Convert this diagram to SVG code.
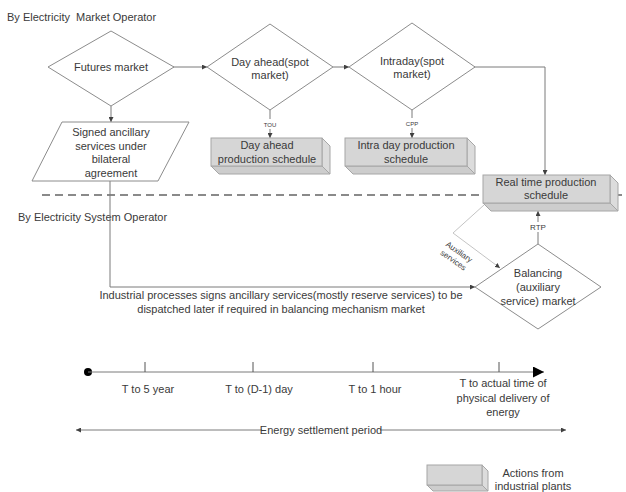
<svg xmlns="http://www.w3.org/2000/svg" width="626" height="492" viewBox="0 0 626 492">
<defs>
<marker id="ah" viewBox="0 0 6 6" refX="6" refY="3" markerWidth="5" markerHeight="5" orient="auto" markerUnits="userSpaceOnUse"><path d="M0,0 L6,3 L0,6 Z" fill="#404040"/></marker>
<marker id="big" viewBox="0 0 10 10" refX="10" refY="5" markerWidth="11" markerHeight="11" orient="auto" markerUnits="userSpaceOnUse"><path d="M0,0 L10,5 L0,10 Z" fill="#000"/></marker>
<style>
text{font-family:"Liberation Sans",Arial,sans-serif;fill:#3a3a3a;font-size:11px}
.c{text-anchor:middle}
.sh{fill:none;stroke:#8c8c8c;stroke-width:1}
.cn{fill:none;stroke:#7a7a7a;stroke-width:1}
.front{fill:#d6d6d6;stroke:#a6a6a6;stroke-width:1}
.side{fill:#dcdcdc;stroke:#a6a6a6;stroke-width:1}
.bot{fill:#cdcdcd;stroke:#a6a6a6;stroke-width:1}
.sm{font-size:6px}
</style>
</defs>
<rect width="626" height="492" fill="#fff"/>
<text x="7" y="21" xml:space="preserve">By Electricity  Market Operator</text>
<text x="18" y="221">By Electricity System Operator</text>
<line x1="42" y1="195" x2="626" y2="195" stroke="#8a8a8a" stroke-width="2" stroke-dasharray="8,5"/>
<g id="connectors">
<line class="cn" x1="173" y1="67" x2="207" y2="67" marker-end="url(#ah)"/>
<line class="cn" x1="333" y1="67" x2="349" y2="67" marker-end="url(#ah)"/>
<polyline class="cn" points="474,67 545,67 545,175" marker-end="url(#ah)"/>
<line class="cn" x1="111" y1="106" x2="111" y2="122" marker-end="url(#ah)"/>
<line class="cn" x1="270" y1="110" x2="270" y2="119"/>
<line class="cn" x1="270" y1="129" x2="270" y2="138" marker-end="url(#ah)"/>
<text class="c sm" x="270" y="127">TOU</text>
<line class="cn" x1="412" y1="110" x2="412" y2="118"/>
<line class="cn" x1="412" y1="128" x2="412" y2="138" marker-end="url(#ah)"/>
<text class="c sm" x="412" y="126">CPP</text>
<polyline class="cn" points="110,181 110,287 475,287" marker-end="url(#ah)"/>
<line class="cn" x1="538" y1="244" x2="538" y2="232"/>
<line class="cn" x1="538" y1="222" x2="538" y2="211" marker-end="url(#ah)"/>
<text class="c" x="538" y="230" style="font-size:8px">RTP</text>
<polyline points="484,205 453,233 500,268" fill="none" stroke="#c4c4c4" stroke-width="1" marker-end="url(#ah)"/>
<g transform="translate(457,255) rotate(35)"><text class="c" x="0" y="-1" style="font-size:8px">Auxiliary</text><text class="c" x="0" y="9" style="font-size:8px">services</text></g>
</g>
<g id="futures"><polygon class="sh" points="48,67 111,31 174,67 111,106"/><text class="c" x="111" y="71">Futures market</text></g>
<g id="dayahead"><polygon class="sh" points="207,67 270,24 333,67 270,110"/><text class="c" x="270" y="66">Day ahead(spot</text><text class="c" x="270" y="79">market)</text></g>
<g id="intraday"><polygon class="sh" points="349,67 412,23 475,67 412,110"/><text class="c" x="412" y="65">Intraday(spot</text><text class="c" x="412" y="78">market)</text></g>
<g id="signed"><polygon class="sh" points="62,122 189,122 158,181 32,181"/><text class="c" x="111" y="136">Signed ancillary</text><text class="c" x="111" y="150">services under</text><text class="c" x="111" y="163">bilateral</text><text class="c" x="111" y="177">agreement</text></g>
<g id="dayahead-schedule">
<polygon class="side" points="322,138 330,146 330,174 322,166"/>
<polygon class="bot" points="211,166 322,166 330,174 219,174"/>
<rect class="front" x="211" y="138" width="111" height="28"/>
<text class="c" x="267" y="149">Day ahead</text><text class="c" x="267" y="163">production schedule</text></g>
<g id="intraday-schedule">
<polygon class="side" points="467,138 475,146 475,174 467,166"/>
<polygon class="bot" points="345,166 467,166 475,174 353,174"/>
<rect class="front" x="345" y="138" width="122" height="28"/>
<text class="c" x="406" y="149">Intra day production</text><text class="c" x="406" y="163">schedule</text></g>
<g id="realtime-schedule">
<polygon class="side" points="610,175 618,183 618,211 610,203"/>
<polygon class="bot" points="483,203 610,203 618,211 491,211"/>
<rect class="front" x="483" y="175" width="127" height="28"/>
<text class="c" x="546" y="186">Real time production</text><text class="c" x="546" y="199">schedule</text></g>
<g id="balancing"><polygon class="sh" points="475,287 538,244 601,287 538,329"/><text class="c" x="538" y="277">Balancing</text><text class="c" x="538" y="291">(auxiliary</text><text class="c" x="538" y="305">service) market</text></g>
<g id="note"><text class="c" x="281" y="299">Industrial processes signs ancillary services(mostly reserve services) to be</text><text class="c" x="281" y="313">dispatched later if required in balancing mechanism market</text></g>
<g id="timeline">
<circle cx="88" cy="372" r="4" fill="#000"/>
<line x1="88" y1="372" x2="544" y2="372" stroke="#7a7a7a" stroke-width="1" marker-end="url(#big)"/>
<g stroke="#555" stroke-width="1"><line x1="145" y1="362" x2="145" y2="372"/><line x1="253" y1="362" x2="253" y2="372"/><line x1="373" y1="362" x2="373" y2="372"/><line x1="499" y1="362" x2="499" y2="372"/></g>
<text class="c" x="148" y="393">T to 5 year</text>
<text class="c" x="259" y="393">T to (D-1) day</text>
<text class="c" x="375" y="393">T to 1 hour</text>
<text class="c" x="503" y="387">T to actual time of</text>
<text class="c" x="503" y="402">physical delivery of</text>
<text class="c" x="503" y="416">energy</text>
</g>
<g id="settlement">
<line x1="262" y1="430" x2="76" y2="430" stroke="#7a7a7a" stroke-width="1" marker-end="url(#ah)"/>
<line x1="380" y1="430" x2="566" y2="430" stroke="#7a7a7a" stroke-width="1" marker-end="url(#ah)"/>
<text class="c" x="321" y="434">Energy settlement period</text>
</g>
<g id="legend">
<polygon class="side" points="482,465 488,471 488,491 482,485"/>
<polygon class="bot" points="427,485 482,485 488,491 433,491"/>
<rect class="front" x="427" y="465" width="55" height="20"/>
<text class="c" x="533" y="477">Actions from</text><text class="c" x="533" y="490">industrial plants</text>
</g>
</svg>
